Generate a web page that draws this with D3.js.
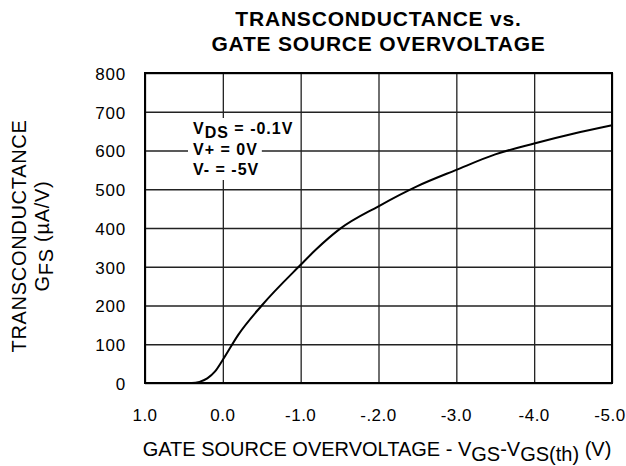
<!DOCTYPE html>
<html>
<head>
<meta charset="utf-8">
<script src="https://cdn.jsdelivr.net/npm/d3@7"></script>
<style>
  body { margin: 0; background: #fff; }
  svg { display: block; font-family: 'Liberation Sans', Arial, sans-serif; }
</style>
</head>
<body>
<div id="chart"></div>
<script>
// values
const overdrive = [0.6, 0.4, 0.3, 0.2, 0.1, 0.0, -0.2, -0.5, -1.0, -1.2, -1.5, -2.0, -2.5, -3.0, -3.5, -4.0, -4.5, -5.0]
const gfs = [0, 0, 3, 12, 30, 60, 125, 200, 305, 345, 397, 456, 508, 550, 590, 618, 643, 665]

const xTicks = [1, 0, -1, -2, -3, -4, -5]
const xTickLabels = ['1.0', '0.0', '-1.0', '-.2.0', '-3.0', '-4.0', '-5.0']
const yTicks = [0, 100, 200, 300, 400, 500, 600, 700, 800]

const legendLines = [
  { main: 'V', sub: 'DS', rest: ' = -0.1V' },
  { main: 'V+ = 0V', sub: '', rest: '' },
  { main: 'V- = -5V', sub: '', rest: '' }
]

const width = 626
const height = 466
const margin = { top: 73, right: 14, bottom: 83, left: 145 }
const innerWidth = width - margin.left - margin.right
const innerHeight = height - margin.top - margin.bottom

const svg = d3.select('#chart').append('svg')
  .attr('width', width)
  .attr('height', height)

// scales in page pixels, so the texts can sit at plain x/y
const xScale = d3.scaleLinear().domain([1, -5]).range([margin.left, width - margin.right])
const yScale = d3.scaleLinear().domain([0, 800]).range([height - margin.bottom, margin.top])

// grid lines
const xGrid = d3.axisBottom(xScale).tickValues(xTicks).tickSize(-innerHeight).tickFormat('')
const yGrid = d3.axisLeft(yScale).tickValues(yTicks).tickSize(-innerWidth).tickFormat('')
svg.append('g').attr('transform', `translate(0,${height - margin.bottom})`).call(xGrid)
  .call(s => s.select('.domain').remove())
  .call(s => s.selectAll('text').remove())
  .selectAll('line').attr('stroke', '#222').attr('stroke-width', 1.3)
svg.append('g').attr('transform', `translate(${margin.left},0)`).call(yGrid)
  .call(s => s.select('.domain').remove())
  .call(s => s.selectAll('text').remove())
  .selectAll('line').attr('stroke', '#222').attr('stroke-width', 1.3)

// tick labels
svg.append('g').selectAll('text').data(xTicks).join('text')
  .attr('x', d => xScale(d) + (d === -5 ? -2 : 0))
  .attr('y', height - margin.bottom + 38)
  .attr('text-anchor', 'middle')
  .attr('font-size', 17)
  .style('letter-spacing', '0.5px')
  .text((d, i) => xTickLabels[i])

svg.append('g').selectAll('text').data(yTicks).join('text')
  .attr('x', margin.left - 19)
  .attr('y', d => yScale(d))
  .attr('dy', '0.4em')
  .attr('text-anchor', 'end')
  .attr('font-size', 17)
  .style('letter-spacing', '0.8px')
  .text(d => d)

// legend text with white background, covers the grid
const legend = svg.append('g')
const legendX = 193
const legendY0 = 134
legendLines.forEach((d, i) => {
  const t = legend.append('text')
    .attr('x', legendX)
    .attr('y', legendY0 + i * 20.5)
    .attr('font-size', 16)
    .attr('font-weight', 'bold')
    .style('letter-spacing', '1px')
  t.append('tspan').text(d.main)
  if (d.sub) {
    t.append('tspan').attr('dy', 4).text(d.sub)
    t.append('tspan').attr('dy', -4).text(d.rest)
  }
})
legend.selectAll('text').each(function () {
  const b = this.getBBox()
  legend.insert('rect', 'text')
    .attr('x', b.x - 5)
    .attr('y', b.y - 2)
    .attr('width', b.width + 9)
    .attr('height', b.height + 4)
    .attr('fill', '#fff')
})

// curve
const points = overdrive.map((v, i) => ({ x: v, y: gfs[i] }))
const line = d3.line()
  .x(d => xScale(d.x))
  .y(d => yScale(d.y))
  .curve(d3.curveMonotoneX)
svg.append('path')
  .datum(points)
  .attr('fill', 'none')
  .attr('stroke', '#000')
  .attr('stroke-width', 2)
  .attr('d', line)

// frame
svg.append('rect')
  .attr('x', margin.left)
  .attr('y', margin.top)
  .attr('width', innerWidth)
  .attr('height', innerHeight)
  .attr('fill', 'none')
  .attr('stroke', '#000')
  .attr('stroke-width', 2)

// title
const cx = margin.left + innerWidth / 2
const title = svg.append('text')
  .attr('text-anchor', 'middle')
  .attr('font-size', 21)
  .attr('font-weight', 'bold')
  .style('letter-spacing', '0.8px')
title.append('tspan').attr('x', cx).attr('y', 26).text('TRANSCONDUCTANCE vs.')
title.append('tspan').attr('x', cx).attr('y', 51).text('GATE SOURCE OVERVOLTAGE')

// y axis title, rotated round its own anchor
svg.append('text')
  .attr('x', 26).attr('y', 236)
  .attr('transform', 'rotate(-90, 26, 236)')
  .attr('dx', 0).attr('dy', 0)
  .attr('text-anchor', 'middle')
  .attr('font-size', 20)
  .style('letter-spacing', '0.7px')
  .text('TRANSCONDUCTANCE')
const gfsLabel = svg.append('text')
  .attr('x', 49).attr('y', 236)
  .attr('transform', 'rotate(-90, 49, 236)')
  .attr('text-anchor', 'middle')
  .attr('font-size', 20)
  .style('letter-spacing', '0.7px')
gfsLabel.append('tspan').text('G')
gfsLabel.append('tspan').attr('dy', 4).text('FS')
gfsLabel.append('tspan').attr('dy', -4).text(' (\u00b5A/V)')

// x axis title
const xTitle = svg.append('text')
  .attr('x', 377)
  .attr('y', 456)
  .attr('text-anchor', 'middle')
  .attr('font-size', 20)
xTitle.append('tspan').text('GATE SOURCE OVERVOLTAGE - V')
xTitle.append('tspan').attr('dy', 5).text('GS')
xTitle.append('tspan').attr('dy', -5).text('-V')
xTitle.append('tspan').attr('dy', 5).text('GS(th)')
xTitle.append('tspan').attr('dy', -5).text(' (V)')
</script>
</body>
</html>
